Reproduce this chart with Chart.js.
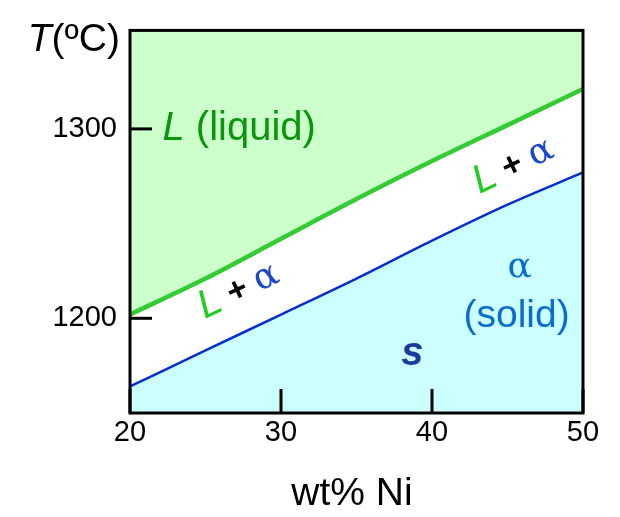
<!DOCTYPE html>
<html>
<head>
<meta charset="utf-8">
<script src="https://cdn.jsdelivr.net/npm/chart.js@4"></script>
<style>
  html, body { margin: 0; padding: 0; background: #fff; }
  #wrap { width: 620px; height: 517px; }
</style>
</head>
<body>
<div id="wrap"><canvas id="phase" width="620" height="517"></canvas></div>
<script>
// composition (wt% Ni) and the two boundary curves (deg C)
var composition = [20, 25, 30, 35, 40, 45, 50]
var liquidus = [1202, 1221, 1242, 1263, 1283, 1302, 1321]
var solidus = [1164, 1183, 1202, 1221, 1241, 1260, 1277]
var xTicks = [20, 30, 40, 50]
var yTicks = [1200, 1300]

function toPoints(ys) {
  return composition.map(function (x, i) { return { x: x, y: ys[i] } })
}

var SANS = 'Arial, "Liberation Sans", sans-serif'
var SERIF = '"DejaVu Serif", "Liberation Serif", serif'

// draws pieces of text one after the other, starting at x
function drawRun(ctx, parts, x, y) {
  parts.forEach(function (p) {
    ctx.font = p.font
    ctx.fillStyle = p.color
    ctx.fillText(p.text, x, y)
    x += ctx.measureText(p.text).width
  })
}
function runWidth(ctx, parts) {
  var w = 0
  parts.forEach(function (p) { ctx.font = p.font; w += ctx.measureText(p.text).width })
  return w
}

var decor = {
  id: 'decor',
  afterDatasetsDraw: function (chart) {
    var ctx = chart.ctx, a = chart.chartArea
    var xs = chart.scales.x, ys = chart.scales.y
    ctx.save()
    ctx.strokeStyle = '#000'
    // inward ticks
    ctx.lineWidth = 3
    yTicks.forEach(function (v) {
      var py = ys.getPixelForValue(v)
      ctx.beginPath(); ctx.moveTo(a.left, py); ctx.lineTo(a.left + 22, py); ctx.stroke()
    })
    xTicks.forEach(function (v) {
      var px = xs.getPixelForValue(v)
      ctx.beginPath(); ctx.moveTo(px, a.bottom); ctx.lineTo(px, a.bottom - 24); ctx.stroke()
    })
    // frame
    ctx.strokeRect(a.left, a.top, a.right - a.left, a.bottom - a.top)
    ctx.restore()
  },
  afterDraw: function (chart) {
    var ctx = chart.ctx
    var xs = chart.scales.x, ys = chart.scales.y
    ctx.save()
    ctx.textBaseline = 'alphabetic'

    // axis titles
    var tParts = [
      { text: 'T', font: 'italic 39px ' + SANS, color: '#000' },
      { text: '(ºC)', font: '39px ' + SANS, color: '#000' }
    ]
    drawRun(ctx, tParts, 120 - runWidth(ctx, tParts), 51)

    ctx.font = '39px ' + SANS
    ctx.fillStyle = '#000'
    ctx.textAlign = 'center'
    ctx.fillText('wt% Ni', 352, 505)
    ctx.textAlign = 'left'

    // region labels
    ctx.textBaseline = 'middle'
    drawRun(ctx, [
      { text: 'L', font: 'italic 40px ' + SANS, color: '#0a960a' },
      { text: ' (liquid)', font: '40px ' + SANS, color: '#0a960a' }
    ], xs.getPixelForValue(22.15), ys.getPixelForValue(1300))

    var twoPhase = [
      { text: 'L', font: 'italic 40px ' + SANS, color: '#22cc22' },
      { text: ' + ', font: 'bold 34px ' + SANS, color: '#000' },
      { text: 'α', font: '36px ' + SERIF, color: '#1a46c8' }
    ]
    ;[[27.2, 1214.5], [45.4, 1280.5]].forEach(function (p) {
      ctx.save()
      ctx.translate(xs.getPixelForValue(p[0]), ys.getPixelForValue(p[1]))
      ctx.rotate(-25 * Math.PI / 180)
      drawRun(ctx, twoPhase, -runWidth(ctx, twoPhase) / 2, 0)
      ctx.restore()
    })

    ctx.textAlign = 'center'
    ctx.fillStyle = '#0a6ccc'
    ctx.font = '36px ' + SERIF
    ctx.fillText('α', xs.getPixelForValue(45.8), ys.getPixelForValue(1227))
    ctx.font = '39px ' + SANS
    ctx.fillText('(solid)', xs.getPixelForValue(45.6), ys.getPixelForValue(1201))
    ctx.fillStyle = '#1a3a9c'
    ctx.font = 'bold italic 40px ' + SANS
    ctx.fillText('s', xs.getPixelForValue(38.7), ys.getPixelForValue(1181))
    ctx.restore()
  }
}

var ctx = document.getElementById('phase').getContext('2d')

new Chart(ctx, {
  type: 'line',
  data: {
    datasets: [
      {
        data: toPoints(liquidus),
        borderColor: '#33cc33',
        borderWidth: 4.5,
        backgroundColor: '#ccffcc',
        fill: 'end',
        pointRadius: 0,
        cubicInterpolationMode: 'monotone'
      },
      {
        data: toPoints(solidus),
        borderColor: '#0a2ecc',
        borderWidth: 2.5,
        backgroundColor: '#ccffff',
        fill: 'start',
        pointRadius: 0,
        cubicInterpolationMode: 'monotone'
      }
    ]
  },
  options: {
    responsive: false,
    animation: false,
    layout: { padding: { top: 28, right: 37, left: 0, bottom: 0 } },
    scales: {
      x: {
        type: 'linear',
        min: 20,
        max: 50,
        afterBuildTicks: function (s) { s.ticks = xTicks.map(function (v) { return { value: v } }) },
        afterFit: function (s) { s.height = 104 },
        grid: { display: false, drawTicks: false },
        border: { display: false },
        ticks: {
          color: '#000', font: { size: 29, family: SANS }, padding: 3, maxRotation: 0,
          callback: function (v) { return String(v) }
        }
      },
      y: {
        min: 1150,
        max: 1352,
        afterBuildTicks: function (s) { s.ticks = yTicks.map(function (v) { return { value: v } }) },
        afterFit: function (s) { s.width = 130 },
        grid: { display: false, drawTicks: false },
        border: { display: false },
        ticks: {
          color: '#000', font: { size: 29, family: SANS }, padding: 13,
          callback: function (v) { return String(v) }
        }
      }
    },
    plugins: {
      legend: { display: false },
      tooltip: { enabled: false }
    }
  },
  plugins: [decor]
})
</script>
</body>
</html>
